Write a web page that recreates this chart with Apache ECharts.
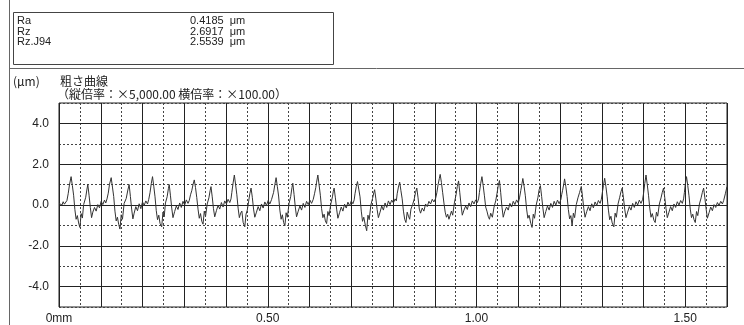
<!DOCTYPE html>
<html>
<head>
<meta charset="utf-8">
<script src="https://cdn.jsdelivr.net/npm/echarts@6/dist/echarts.min.js"></script>
<style>
  html, body { margin: 0; padding: 0; background: #fff; }
  #chart { width: 744px; height: 325px; }
</style>
</head>
<body>
<div id="chart"></div>
<script>
// roughness parameters shown in the header box
const paramNames = ["Ra", "Rz", "Rz.J94"];
const paramValues = ["0.4185", "2.6917", "2.5539"];

// axis tick labels
const xLabelValues = [0, 0.5, 1.0, 1.5];
const xLabelTexts = ["0mm", "0.50", "1.00", "1.50"];
const yLabelValues = [-4, -2, 0, 2, 4];

// roughness profile: [position mm, height µm]
const profile = [
  [0.000, 0.08], [0.004, 0.14], [0.007, 0.00], [0.010, 0.16], [0.013, 0.04], [0.016, 0.12], [0.019, 0.22],
  [0.022, 0.55], [0.025, 0.98], [0.029, 1.39], [0.032, 0.95], [0.035, 0.48], [0.038, -0.22], [0.041, -0.70],
  [0.044, -0.52], [0.047, -0.88], [0.050, -1.10], [0.053, -0.42], [0.056, -0.64], [0.059, 0.02], [0.064, 0.38],
  [0.067, 0.78], [0.069, 1.00], [0.072, 0.48], [0.075, -0.12], [0.078, -0.62], [0.081, -0.35], [0.085, -0.12],
  [0.089, -0.30], [0.093, 0.02], [0.097, -0.14], [0.101, 0.18], [0.105, 0.02], [0.109, 0.24], [0.112, 0.10],
  [0.115, 0.30],
  [0.118, 0.58], [0.121, 1.02], [0.125, 1.34], [0.128, 0.88], [0.131, 0.42], [0.134, -0.30], [0.137, -0.78],
  [0.140, -0.60], [0.143, -0.95], [0.146, -1.18], [0.149, -0.48], [0.152, -0.70], [0.156, 0.08], [0.161, 0.32],
  [0.165, 0.74], [0.168, 1.00], [0.171, 0.42], [0.174, -0.20], [0.177, -0.68], [0.180, -0.40], [0.184, -0.08],
  [0.188, -0.28], [0.192, 0.06], [0.196, -0.18], [0.200, 0.15], [0.204, -0.02], [0.208, 0.20], [0.212, 0.05],
  [0.215, 0.28], [0.218, 0.60], [0.221, 1.05], [0.224, 1.39], [0.227, 0.92], [0.230, 0.40], [0.233, -0.28],
  [0.236, -0.72], [0.239, -0.50], [0.242, -0.90], [0.246, -1.07], [0.249, -0.35], [0.252, -0.58], [0.255, 0.10],
  [0.259, 0.40], [0.262, 0.80], [0.264, 1.00], [0.267, 0.45], [0.270, -0.15], [0.273, -0.62], [0.277, -0.32],
  [0.281, -0.05], [0.285, -0.22], [0.289, 0.10], [0.293, -0.12], [0.297, 0.18], [0.301, 0.00], [0.305, 0.25],
  [0.309, 0.08], [0.312, 0.22],
  [0.315, 0.50], [0.318, 0.70], [0.321, 1.00], [0.324, 1.23], [0.327, 0.85], [0.330, 0.36], [0.333, -0.20],
  [0.336, -0.65], [0.339, -0.42], [0.342, -0.80], [0.345, -0.94], [0.348, -0.30], [0.351, -0.55], [0.355, 0.05],
  [0.359, 0.35], [0.362, 0.70], [0.364, 0.90], [0.367, 0.40], [0.370, -0.18], [0.373, -0.58], [0.377, -0.28],
  [0.381, -0.02], [0.385, -0.20], [0.389, 0.12], [0.393, -0.10], [0.397, 0.20], [0.401, 0.05], [0.405, 0.28],
  [0.409, 0.12],
  [0.412, 0.30], [0.414, 0.62], [0.417, 1.08], [0.420, 1.47], [0.423, 1.00], [0.426, 0.50], [0.429, -0.15],
  [0.432, -0.62], [0.435, -0.40], [0.438, -0.30], [0.441, -0.85], [0.445, -1.07], [0.448, -0.45], [0.451, -0.25],
  [0.454, 0.15], [0.457, 0.55], [0.460, 0.83], [0.463, 0.38], [0.466, -0.20], [0.469, -0.60], [0.473, -0.35],
  [0.477, -0.08], [0.481, -0.28], [0.485, 0.05], [0.489, -0.15], [0.493, 0.15], [0.497, -0.02], [0.501, 0.22],
  [0.505, 0.05], [0.509, 0.26],
  [0.512, 0.35], [0.514, 0.62], [0.517, 1.00], [0.520, 1.34], [0.523, 0.90], [0.526, 0.44], [0.529, -0.25],
  [0.532, -0.70], [0.535, -0.48], [0.538, -0.86], [0.541, -1.02], [0.544, -0.38], [0.547, -0.60], [0.551, 0.08],
  [0.555, 0.42], [0.558, 0.85], [0.560, 1.07], [0.563, 0.52], [0.566, -0.10], [0.569, -0.58], [0.573, -0.30],
  [0.577, -0.05], [0.581, -0.25], [0.585, 0.08], [0.589, -0.12], [0.593, 0.18], [0.597, 0.02], [0.601, 0.24],
  [0.605, 0.08], [0.609, 0.28],
  [0.612, 0.55], [0.615, 0.85], [0.617, 1.12], [0.620, 1.47], [0.623, 0.98], [0.626, 0.48], [0.629, -0.18],
  [0.632, -0.62], [0.635, -0.45], [0.638, -0.78], [0.641, -0.91], [0.644, -0.32], [0.647, -0.52], [0.651, 0.05],
  [0.655, 0.40], [0.657, 0.68], [0.659, 0.83], [0.662, 0.35], [0.665, -0.20], [0.668, -0.65], [0.672, -0.38],
  [0.676, -0.10], [0.680, -0.30], [0.684, 0.04], [0.688, -0.15], [0.692, 0.14], [0.696, -0.04], [0.700, 0.20],
  [0.704, 0.06],
  [0.707, 0.25], [0.709, 0.55], [0.712, 0.90], [0.715, 1.15], [0.718, 0.78], [0.721, 0.40], [0.724, -0.30],
  [0.727, -0.80], [0.730, -0.60], [0.734, -1.02], [0.737, -1.26], [0.740, -0.50], [0.743, -0.72], [0.747, 0.00],
  [0.751, 0.32], [0.754, 0.60], [0.756, 0.75], [0.759, 0.30], [0.762, -0.22], [0.765, -0.62], [0.769, -0.35],
  [0.773, -0.05], [0.777, -0.25], [0.781, 0.10], [0.785, -0.12], [0.789, 0.20], [0.793, 0.02], [0.797, 0.24],
  [0.801, 0.10], [0.805, 0.30],
  [0.808, 0.20], [0.810, 0.55], [0.813, 0.88], [0.816, 1.12], [0.819, 0.70], [0.822, 0.30], [0.825, -0.30],
  [0.828, -0.70], [0.831, -0.86], [0.834, -0.35], [0.837, -0.55], [0.840, -0.70], [0.843, -0.20], [0.847, 0.02],
  [0.851, 0.30], [0.854, 0.62], [0.857, 0.83], [0.860, 0.35], [0.863, -0.20], [0.866, -0.40], [0.870, -0.15],
  [0.874, -0.30], [0.878, 0.05], [0.882, -0.08], [0.886, 0.18], [0.890, 0.05], [0.894, 0.28], [0.898, 0.15],
  [0.902, 0.32],
  [0.905, 0.60], [0.908, 1.00], [0.911, 1.30], [0.913, 1.50], [0.916, 1.10], [0.919, 0.60], [0.922, 0.10],
  [0.925, -0.35], [0.928, -0.60], [0.931, -0.45], [0.934, -0.70], [0.937, -0.78], [0.940, -0.30], [0.943, -0.50],
  [0.947, 0.10], [0.951, 0.50], [0.954, 0.90], [0.957, 1.18], [0.960, 0.60], [0.963, 0.00], [0.966, -0.50],
  [0.970, -0.25], [0.974, -0.05], [0.978, -0.22], [0.982, 0.10], [0.986, -0.08], [0.990, 0.20], [0.994, 0.05],
  [0.998, 0.25], [1.002, 0.12],
  [1.005, 0.30], [1.007, 0.62], [1.010, 1.05], [1.013, 1.39], [1.016, 0.95], [1.019, 0.45], [1.022, -0.10],
  [1.025, -0.30], [1.028, -0.55], [1.031, -0.70], [1.034, -0.40], [1.038, -0.60], [1.042, -0.10], [1.046, 0.20],
  [1.049, 0.55], [1.052, 0.95], [1.055, 1.20], [1.058, 0.60], [1.061, -0.10], [1.064, -0.60], [1.068, -0.30],
  [1.072, -0.10], [1.076, -0.25], [1.080, 0.08], [1.084, -0.10], [1.088, 0.18], [1.092, 0.02], [1.096, 0.25],
  [1.100, 0.10],
  [1.103, 0.35], [1.106, 0.70], [1.109, 1.05], [1.111, 1.30], [1.114, 0.92], [1.117, 0.45], [1.120, -0.20],
  [1.123, -0.65], [1.126, -0.50], [1.130, -0.90], [1.133, -1.10], [1.136, -0.45], [1.139, -0.65], [1.143, 0.00],
  [1.147, 0.35], [1.150, 0.75], [1.153, 0.95], [1.156, 0.42], [1.159, -0.15], [1.162, -0.62], [1.166, -0.32],
  [1.170, -0.05], [1.174, -0.25], [1.178, 0.08], [1.182, -0.12], [1.186, 0.18], [1.190, 0.00], [1.194, 0.24],
  [1.198, 0.06], [1.202, 0.26],
  [1.204, 0.50], [1.206, 0.70], [1.209, 1.02], [1.211, 1.28], [1.214, 0.90], [1.217, 0.42], [1.220, -0.22],
  [1.223, -0.68], [1.226, -0.52], [1.229, -1.02], [1.232, -0.40], [1.235, -0.62], [1.239, 0.02], [1.243, 0.35],
  [1.247, 0.62], [1.251, 0.91], [1.254, 0.40], [1.257, -0.18], [1.260, -0.60], [1.264, -0.32], [1.268, -0.08],
  [1.272, -0.28], [1.276, 0.06], [1.280, -0.14], [1.284, 0.15], [1.288, -0.02], [1.292, 0.22], [1.296, 0.08],
  [1.299, 0.28],
  [1.301, 0.55], [1.304, 0.95], [1.307, 1.31], [1.310, 0.90], [1.313, 0.40], [1.316, -0.25], [1.319, -0.72],
  [1.322, -0.55], [1.325, -0.88], [1.329, -1.07], [1.332, -0.40], [1.335, -0.60], [1.339, 0.05], [1.343, 0.38],
  [1.346, 0.65], [1.349, 0.83], [1.352, 0.35], [1.355, -0.20], [1.358, -0.62], [1.362, -0.35], [1.366, -0.08],
  [1.370, -0.25], [1.374, 0.08], [1.378, -0.12], [1.382, 0.16], [1.386, 0.00], [1.390, 0.24], [1.394, 0.08],
  [1.398, 0.28],
  [1.400, 0.55], [1.403, 1.05], [1.406, 1.47], [1.409, 1.00], [1.412, 0.48], [1.415, -0.15], [1.418, -0.60],
  [1.421, -0.42], [1.425, -0.75], [1.428, -0.86], [1.431, -0.35], [1.434, -0.55], [1.438, 0.05], [1.442, 0.35],
  [1.445, 0.62], [1.448, 0.83], [1.451, 0.35], [1.454, -0.18], [1.457, -0.62], [1.461, -0.35], [1.465, -0.08],
  [1.469, -0.28], [1.473, 0.05], [1.477, -0.12], [1.481, 0.16], [1.485, 0.00], [1.489, 0.22], [1.493, 0.08],
  [1.496, 0.30],
  [1.498, 0.62], [1.500, 1.00], [1.503, 1.39], [1.506, 0.95], [1.509, 0.45], [1.512, -0.20], [1.515, -0.62],
  [1.518, -0.45], [1.521, -0.72], [1.524, -0.86], [1.527, -0.32], [1.530, -0.52], [1.534, 0.05], [1.538, 0.35],
  [1.541, 0.62], [1.544, 0.83], [1.547, 0.35], [1.550, -0.20], [1.553, -0.65], [1.557, -0.38], [1.561, -0.10],
  [1.565, -0.28], [1.569, 0.02], [1.573, -0.12], [1.577, 0.12], [1.581, -0.02], [1.585, 0.18], [1.589, 0.05],
  [1.592, 0.22], [1.596, 0.55], [1.600, 0.90]
];

const chart = echarts.init(document.getElementById("chart"), null, { renderer: "canvas" });

const textFont = '11px "Liberation Sans", Arial, sans-serif';
const cjkFont = '12px "Noto Sans CJK JP", sans-serif';

const headerTexts = [];
paramNames.forEach((name, i) => {
  const y = 21 + i * 10.5;
  headerTexts.push({ type: "text", style: { text: name, x: 17, y: y, font: textFont, fill: "#222", verticalAlign: "middle" } });
  headerTexts.push({ type: "text", style: { text: paramValues[i] + "  μm", x: 190, y: y, font: textFont, fill: "#222", verticalAlign: "middle" } });
});

const option = {
  animation: false,
  backgroundColor: "#fff",
  grid: {
    left: 59,
    right: 17,
    top: 103,
    bottom: 14,
    show: true,
    borderColor: "#222",
    borderWidth: 1,
    containLabel: false,
  },
  xAxis: [
    {
      // dotted half-division lines
      type: "value",
      position: "bottom",
      min: 0,
      max: 1.6,
      interval: 0.05,
      z: 0,
      axisLine: { show: false },
      axisTick: { show: false },
      axisLabel: { show: false },
      splitLine: { show: true, lineStyle: { color: "#444", width: 1, type: [2, 2] } },
    },
    {
      type: "value",
      position: "bottom",
      min: 0,
      max: 1.6,
      interval: 0.1,
      z: 1,
      axisLine: { show: false },
      axisTick: { show: false },
      splitLine: { show: true, lineStyle: { color: "#222", width: 1 } },
      axisLabel: {
        margin: 6,
        color: "#222",
        fontSize: 12,
        fontFamily: "Liberation Sans, Arial, sans-serif",
        formatter: function (v) {
          const i = xLabelValues.findIndex((t) => Math.abs(t - v) < 1e-6);
          return i >= 0 ? xLabelTexts[i] : "";
        },
      },
    },
  ],
  yAxis: [
    {
      type: "value",
      position: "left",
      min: -5,
      max: 5,
      interval: 1,
      z: 0,
      axisLine: { show: false },
      axisTick: { show: false },
      axisLabel: { show: false },
      splitLine: { show: true, lineStyle: { color: "#444", width: 1, type: [2, 2] } },
    },
    {
      type: "value",
      position: "left",
      min: -5,
      max: 5,
      interval: 1,
      z: 1,
      axisLine: { show: false },
      axisTick: { show: false },
      splitLine: { show: true, lineStyle: { color: ["transparent", "#222"], width: 1 } },
      axisLabel: {
        margin: 10,
        color: "#222",
        fontSize: 12,
        fontFamily: "Liberation Sans, Arial, sans-serif",
        formatter: function (v) {
          const i = yLabelValues.findIndex((t) => Math.abs(t - v) < 1e-6);
          return i >= 0 ? yLabelValues[i].toFixed(1) : "";
        },
      },
    },
  ],
  graphic: [
    { type: "line", shape: { x1: 9.5, y1: 0, x2: 9.5, y2: 325 }, style: { stroke: "#666", lineWidth: 1 } },
    { type: "line", shape: { x1: 9, y1: 68.5, x2: 744, y2: 68.5 }, style: { stroke: "#666", lineWidth: 1 } },
    { type: "rect", shape: { x: 13.5, y: 12.5, width: 320, height: 52 }, style: { fill: "none", stroke: "#444", lineWidth: 1 } },
    ...headerTexts,
    { type: "text", style: { text: "(μm)", x: 13, y: 81, font: cjkFont, fill: "#222", verticalAlign: "middle" } },
    { type: "text", style: { text: "粗さ曲線", x: 60, y: 81, font: cjkFont, fill: "#222", verticalAlign: "middle" } },
    { type: "text", style: { text: "（縦倍率：×5,000.00 横倍率：×100.00）", x: 57, y: 94, font: cjkFont, fill: "#222", verticalAlign: "middle" } },
  ],
  series: [
    {
      name: "粗さ曲線",
      type: "line",
      xAxisIndex: 1,
      yAxisIndex: 1,
      data: profile,
      showSymbol: false,
      lineStyle: { color: "#333", width: 1 },
      z: 3,
    },
  ],
};

chart.setOption(option);
</script>
</body>
</html>
